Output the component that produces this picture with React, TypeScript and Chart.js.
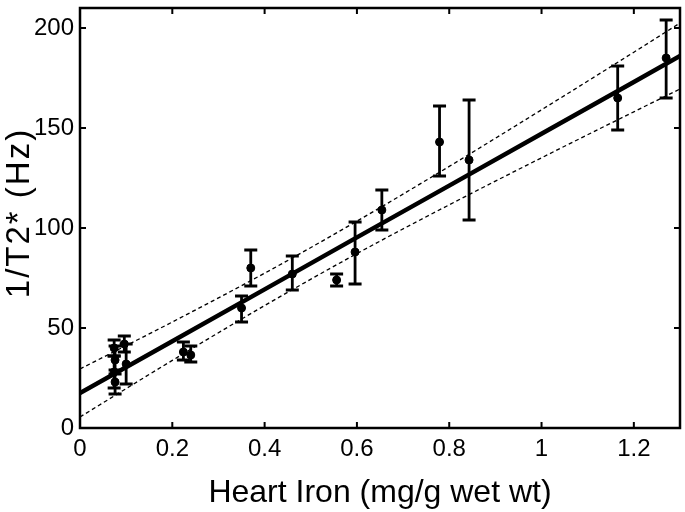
import React, { useEffect, useRef } from "react";
import { Chart, registerables } from "chart.js";

Chart.register(...registerables);

// Measured points: heart iron (mg/g wet wt) vs 1/T2* (Hz), with error bar limits
const ironX = [0.074, 0.076, 0.074, 0.076, 0.096, 0.1, 0.224, 0.24, 0.35, 0.37, 0.46, 0.556, 0.596, 0.654, 0.779, 0.843, 1.165, 1.27];
const rateY = [40, 34, 28, 23, 42, 32, 38, 36.5, 60, 80, 77, 74, 88, 109, 143, 134, 165, 185];
const errLow = [36, 27, 20, 17, 38, 22, 34, 33, 53, 71, 69, 71, 72, 99, 126, 104, 149, 165];
const errHigh = [44, 41, 36, 29, 46, 42, 43, 41, 66, 89, 86, 77, 103, 119, 161, 164, 181, 204];

// Regression line and confidence band, read along the x axis
const bandX = [0, 0.2, 0.4, 0.6, 0.8, 1.0, 1.2, 1.3];
const fitY = [17.5, 43.4, 69.3, 95.3, 121.2, 147.1, 173, 186];
const upperY = [29.5, 53, 77.4, 103.4, 130.8, 159.1, 187.9, 202.5];
const lowerY = [5.5, 33.8, 61.2, 87.2, 111.6, 135.1, 158.1, 169.5];

const xTicks = [0, 0.2, 0.4, 0.6, 0.8, 1, 1.2];
const yTicks = [0, 50, 100, 150, 200];

const xTitle = "Heart Iron (mg/g wet wt)";
const yTitle = "1/T2* (Hz)";

const FONT = "'Liberation Sans', Arial, Helvetica, sans-serif";

const framePlugin = {
  id: "frameAndErrors",
  beforeDatasetsDraw(chart: any) {
    const ctx = chart.ctx;
    const xs = chart.scales.x;
    const ys = chart.scales.y;
    ctx.save();
    ctx.strokeStyle = "#000";
    ctx.lineWidth = 2.8;
    const cap = 6.5;
    for (let i = 0; i < ironX.length; i++) {
      const px = xs.getPixelForValue(ironX[i]);
      const lo = ys.getPixelForValue(errLow[i]);
      const hi = ys.getPixelForValue(errHigh[i]);
      ctx.beginPath();
      ctx.moveTo(px, lo);
      ctx.lineTo(px, hi);
      ctx.moveTo(px - cap, lo);
      ctx.lineTo(px + cap, lo);
      ctx.moveTo(px - cap, hi);
      ctx.lineTo(px + cap, hi);
      ctx.stroke();
    }
    ctx.restore();
  },
  afterDatasetsDraw(chart: any) {
    const ctx = chart.ctx;
    const a = chart.chartArea;
    const xs = chart.scales.x;
    const ys = chart.scales.y;
    ctx.save();
    ctx.strokeStyle = "#000";
    ctx.lineWidth = 2.5;
    ctx.strokeRect(a.left, a.top, a.right - a.left, a.bottom - a.top);
    const t = 6;
    ctx.lineWidth = 2;
    ctx.beginPath();
    for (const v of xTicks) {
      const px = xs.getPixelForValue(v);
      ctx.moveTo(px, a.bottom);
      ctx.lineTo(px, a.bottom - t);
      ctx.moveTo(px, a.top);
      ctx.lineTo(px, a.top + t);
    }
    for (const v of yTicks) {
      const py = ys.getPixelForValue(v);
      ctx.moveTo(a.left, py);
      ctx.lineTo(a.left + t, py);
      ctx.moveTo(a.right, py);
      ctx.lineTo(a.right - t, py);
    }
    ctx.stroke();
    ctx.restore();
  },
  afterDraw(chart: any) {
    const ctx = chart.ctx;
    const a = chart.chartArea;
    ctx.save();
    ctx.fillStyle = "#000";
    ctx.font = `33px ${FONT}`;
    (ctx as any).letterSpacing = "2px";
    ctx.textAlign = "center";
    ctx.textBaseline = "middle";
    ctx.translate(20, (a.top + a.bottom) / 2 - 4);
    ctx.rotate(-Math.PI / 2);
    ctx.fillText(yTitle, 1, 0);
    ctx.restore();
  },
};

export default function App() {
  const ref = useRef<HTMLCanvasElement>(null);
  useEffect(() => {
    document.body.style.margin = "0";
    const canvas = ref.current!;
    const chart = new Chart(canvas, {
      type: "scatter",
      data: {
        datasets: [
          {
            label: "fit",
            data: bandX.map((x, i) => ({ x, y: fitY[i] })),
            showLine: true,
            borderColor: "#000",
            borderWidth: 4.5,
            pointRadius: 0,
          },
          {
            label: "upper",
            data: bandX.map((x, i) => ({ x, y: upperY[i] })),
            showLine: true,
            borderColor: "#000",
            borderWidth: 1.3,
            borderDash: [4, 3],
            pointRadius: 0,
            cubicInterpolationMode: "monotone",
          },
          {
            label: "lower",
            data: bandX.map((x, i) => ({ x, y: lowerY[i] })),
            showLine: true,
            borderColor: "#000",
            borderWidth: 1.3,
            borderDash: [4, 3],
            pointRadius: 0,
            cubicInterpolationMode: "monotone",
          },
          {
            label: "data",
            data: ironX.map((x, i) => ({ x, y: rateY[i] })),
            backgroundColor: "#000",
            borderColor: "#000",
            pointRadius: 4,
            pointStyle: "circle",
          },
        ],
      },
      options: {
        animation: false,
        responsive: false,
        maintainAspectRatio: false,
        layout: { padding: { left: 0, right: 5, top: 8, bottom: 0 } },
        plugins: { legend: { display: false }, tooltip: { enabled: false } },
        scales: {
          x: {
            type: "linear",
            min: 0,
            max: 1.3,
            grid: { display: false, drawTicks: false },
            border: { display: false },
            afterBuildTicks: (s: any) => {
              s.ticks = xTicks.map((v) => ({ value: v }));
            },
            afterFit: (s: any) => {
              s.height = 84;
              s.paddingLeft = 0;
              s.paddingRight = 0;
            },
            ticks: {
              color: "#000",
              font: { family: FONT, size: 24 },
              padding: 7,
              maxRotation: 0,
              callback: (v: any) => String(Number(v)),
            },
            title: {
              display: true,
              text: xTitle,
              color: "#000",
              font: { family: FONT, size: 32 },
              padding: { top: 3, bottom: 0 },
            },
          },
          y: {
            type: "linear",
            min: 0,
            max: 210,
            grid: { display: false, drawTicks: false },
            border: { display: false },
            afterBuildTicks: (s: any) => {
              s.ticks = yTicks.map((v) => ({ value: v }));
            },
            afterFit: (s: any) => {
              s.width = 80;
              s.paddingTop = 0;
              s.paddingBottom = 0;
            },
            ticks: {
              color: "#000",
              font: { family: FONT, size: 24 },
              padding: 6,
              callback: (v: any) => String(Number(v)),
            },
          },
        },
      },
      plugins: [framePlugin],
    } as any);
    return () => chart.destroy();
  }, []);
  return (
    <div style={{ position: "fixed", left: 0, top: 0, width: 685, height: 512, background: "#fff" }}>
      <canvas ref={ref} width={685} height={512} style={{ width: 685, height: 512 }} />
    </div>
  );
}
